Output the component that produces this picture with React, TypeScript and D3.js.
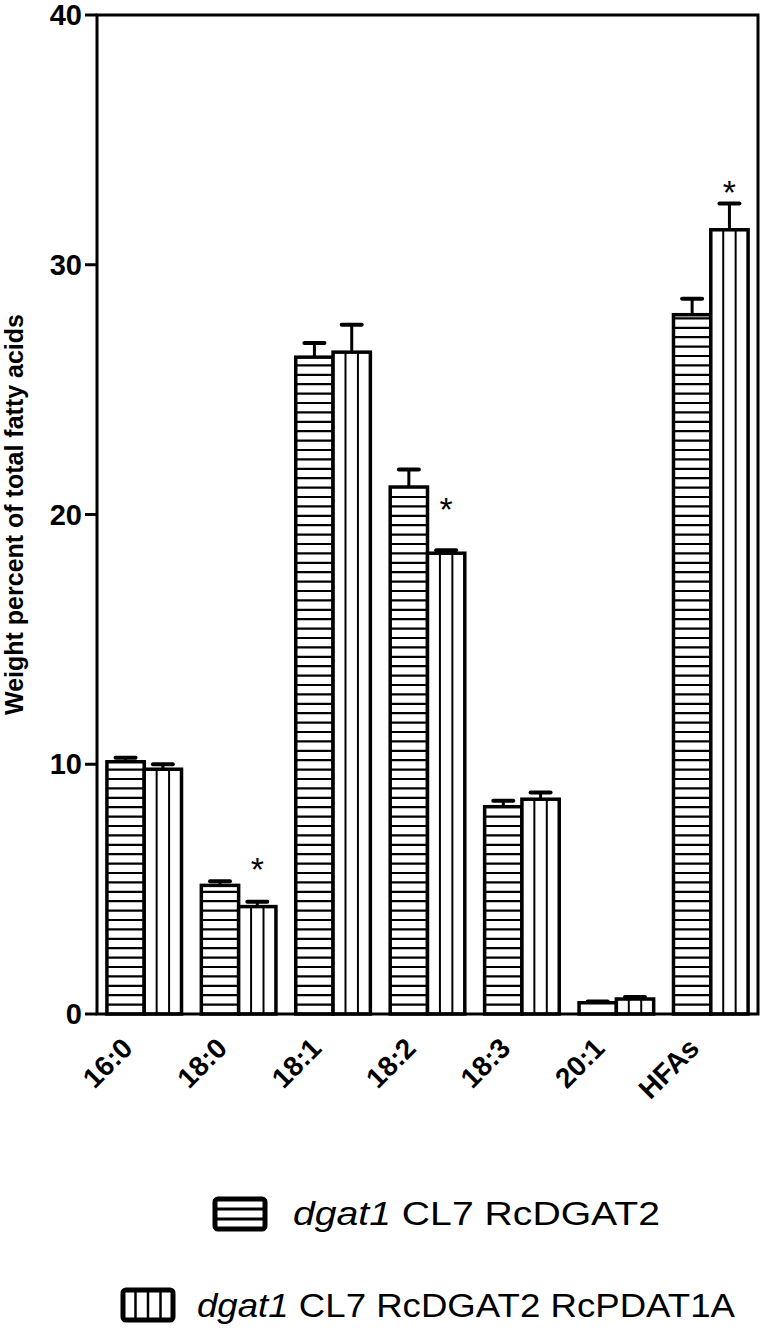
import React from "react";
import * as d3 from "d3";

// fatty acid categories
const categories = ["16:0", "18:0", "18:1", "18:2", "18:3", "20:1", "HFAs"];
// dgat1 CL7 RcDGAT2 (horizontal stripes)
const dgat2Values = [10.1, 5.15, 26.3, 21.1, 8.3, 0.45, 28.0];
const dgat2Errors = [0.16, 0.17, 0.57, 0.7, 0.24, 0.05, 0.64];
// dgat1 CL7 RcDGAT2 RcPDAT1A (vertical stripes)
const pdatValues = [9.8, 4.3, 26.5, 18.45, 8.6, 0.6, 31.4];
const pdatErrors = [0.2, 0.19, 1.1, 0.12, 0.27, 0.08, 1.05];
// level of the significance star (null = none)
const starLevels = [null, 6.1, null, 20.5, null, null, 33.2];
const yTicks = [0, 10, 20, 30, 40];
const seriesNames = ["dgat1 CL7 RcDGAT2", "dgat1 CL7 RcDGAT2 RcPDAT1A"];

const W = 764, H = 1334;
const margin = { top: 15, right: 6, bottom: 320, left: 97 };
const FONT = "'Liberation Sans', Arial, sans-serif";

export default function App() {
  const x = d3.scaleBand<string>()
    .domain(categories)
    .range([margin.left, W - margin.right])
    .paddingInner(0.21)
    .paddingOuter(0.105);
  const xs = d3.scaleBand<string>().domain(["h", "v"]).range([0, x.bandwidth()]);
  const y = d3.scaleLinear().domain([0, 40]).range([H - margin.bottom, margin.top]);
  const bw = xs.bandwidth();
  const y0 = y(0);
  const stripeGap = 9.4;

  const bars = categories.map((c, i) => ({
    c,
    hx: (x(c) as number) + (xs("h") as number),
    vx: (x(c) as number) + (xs("v") as number),
    hv: dgat2Values[i], he: dgat2Errors[i],
    vv: pdatValues[i], ve: pdatErrors[i],
    star: starLevels[i],
  }));

  const errBar = (cx: number, v: number, e: number, key: string) => (
    <g key={key}>
      <line x1={cx} x2={cx} y1={y(v)} y2={y(v + e)} stroke="#000" strokeWidth={3} />
      <line x1={cx - 10} x2={cx + 10} y1={y(v + e)} y2={y(v + e)} stroke="#000" strokeWidth={4} strokeLinecap="round" />
    </g>
  );

  return (
    <svg width={W} height={H} style={{ position: "absolute", left: 0, top: 0 }} fontFamily={FONT}>
      <rect width={W} height={H} fill="#fff" />
      {bars.map((b) => {
        const hTop = y(b.hv), vTop = y(b.vv);
        const hLines = d3.range(y0 - stripeGap, hTop + 2, -stripeGap);
        return (
          <g key={b.c}>
            {errBar(b.hx + bw / 2, b.hv, b.he, "he")}
            {errBar(b.vx + bw / 2, b.vv, b.ve, "ve")}
            <rect x={b.hx} y={hTop} width={bw} height={y0 - hTop} fill="#fff" />
            {hLines.map((ly, k) => (
              <line key={k} x1={b.hx} x2={b.hx + bw} y1={ly} y2={ly} stroke="#000" strokeWidth={2.2} />
            ))}
            <rect x={b.hx} y={hTop} width={bw} height={y0 - hTop} fill="none" stroke="#000" strokeWidth={3.5} />
            <rect x={b.vx} y={vTop} width={bw} height={y0 - vTop} fill="#fff" />
            {[1, 2].map((k) => (
              <line key={k} x1={b.vx + (bw * k) / 3} x2={b.vx + (bw * k) / 3} y1={vTop} y2={y0} stroke="#000" strokeWidth={2} />
            ))}
            <rect x={b.vx} y={vTop} width={bw} height={y0 - vTop} fill="none" stroke="#000" strokeWidth={3.5} />
            {b.star != null && (
              <text x={b.vx + bw / 2} y={y(b.star) + 19} textAnchor="middle" fontSize={34}>*</text>
            )}
          </g>
        );
      })}

      {/* frame and axes */}
      <path
        d={`M${margin.left},${y0}H${W - margin.right}V${margin.top}H${margin.left}Z`}
        fill="none" stroke="#000" strokeWidth={3}
      />
      {yTicks.map((t) => (
        <g key={t}>
          <line x1={margin.left - 12} x2={margin.left} y1={y(t)} y2={y(t)} stroke="#000" strokeWidth={3} />
          <text x={82} y={y(t)} textAnchor="end" dominantBaseline="central" fontSize={29} fontWeight="bold">{t}</text>
        </g>
      ))}
      {categories.map((c) => {
        const cx = (x(c) as number) + x.bandwidth() / 2;
        return (
          <text key={c} transform={`translate(${cx - 10},${y0 + 36}) rotate(-45)`} textAnchor="end"
            fontSize={28} fontWeight="bold">{c}</text>
        );
      })}
      <text transform={`translate(23,${(y0 + margin.top) / 2}) rotate(-90)`} textAnchor="middle"
        fontSize={25} fontWeight="bold">Weight percent of total fatty acids</text>

      {/* legend */}
      <g>
        <rect x={215} y={1199} width={50} height={30} rx={3} fill="#fff" stroke="#000" strokeWidth={5} />
        {[1, 2].map((k) => (
          <line key={k} x1={215} x2={265} y1={1199 + (30 * k) / 3} y2={1199 + (30 * k) / 3} stroke="#000" strokeWidth={3} />
        ))}
        <text x={293} y={1225} fontSize={34} textLength={367} lengthAdjust="spacingAndGlyphs">
          <tspan fontStyle="italic">dgat1</tspan>{seriesNames[0].slice(5)}
        </text>
        <rect x={123} y={1290} width={50} height={30} rx={3} fill="#fff" stroke="#000" strokeWidth={5} />
        {[1, 2, 3].map((k) => (
          <line key={k} x1={123 + (50 * k) / 4} x2={123 + (50 * k) / 4} y1={1290} y2={1320} stroke="#000" strokeWidth={2.5} />
        ))}
        <text x={197} y={1317} fontSize={34} textLength={538} lengthAdjust="spacingAndGlyphs">
          <tspan fontStyle="italic">dgat1</tspan>{seriesNames[1].slice(5)}
        </text>
      </g>
    </svg>
  );
}
